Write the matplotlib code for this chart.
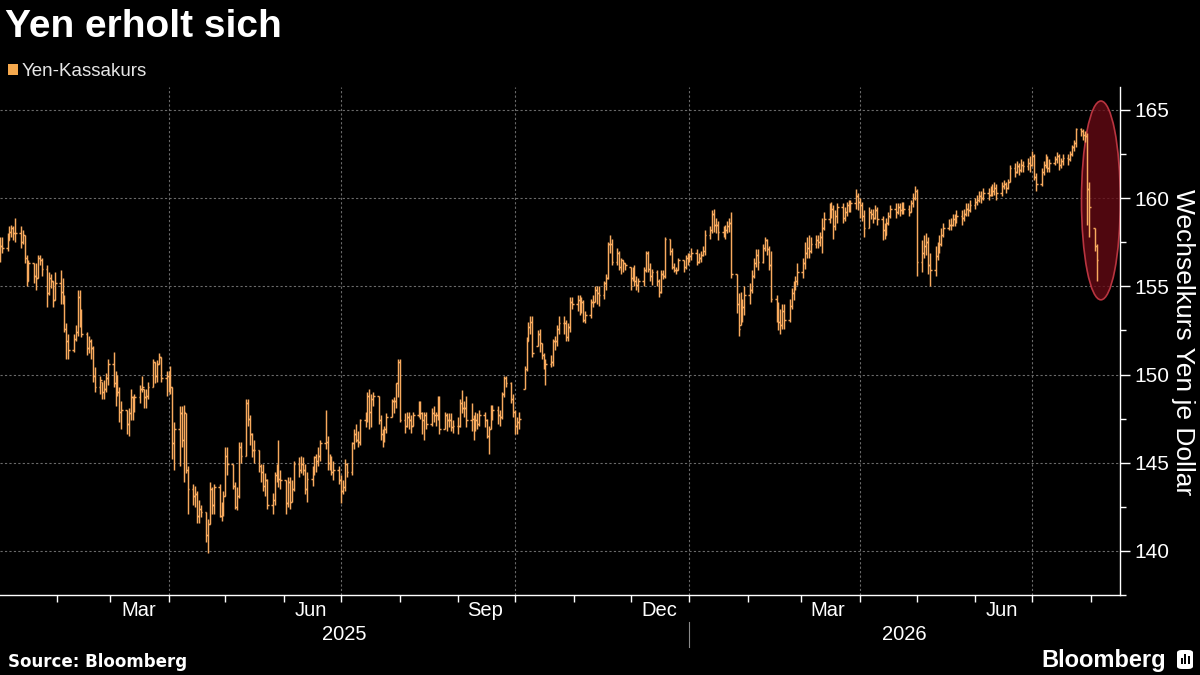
import numpy as np
import pandas as pd
import matplotlib
matplotlib.use("Agg")
import matplotlib.pyplot as plt
import matplotlib.dates as mdates
from matplotlib.collections import LineCollection
from matplotlib.patches import Ellipse, Rectangle, FancyBboxPatch
from matplotlib.transforms import blended_transform_factory

plt.rcParams['font.family'] = ['Liberation Sans', 'DejaVu Sans']

# ---------------- data (USD/JPY daily bars, business days) ----------------
start_date = "2025-01-02"
end_date = "2026-08-04"

close = [
    # Jan 2025
    157.3,157.2,157.6,158.1,158.3,158.0,158.0,157.5,157.9,156.6,155.3,156.3,155.6,155.5,156.6,156.5,156.0,154.6,155.5,155.3,154.2,155.2,
    # Feb 2025
    154.7,154.3,152.6,151.9,151.4,152.0,152.4,154.4,153.6,152.3,151.5,151.9,151.5,149.9,149.3,149.7,149.0,149.2,149.8,150.6,
    # Mar 2025
    149.5,149.8,149.0,147.9,148.0,147.2,147.8,148.7,148.0,148.7,149.2,149.3,148.7,148.8,149.3,150.7,149.9,150.6,151.0,149.8,149.9,
    # Apr 2025
    149.6,149.3,146.1,146.9,147.8,146.3,147.9,144.6,143.5,143.1,143.2,142.0,142.4,142.2,140.9,141.5,143.5,142.6,143.6,142.0,142.3,143.1,
    # May 2025
    145.4,144.9,143.7,142.5,143.1,145.9,145.4,148.4,147.5,146.6,145.7,145.7,144.8,144.5,143.7,144.0,142.6,142.9,144.3,144.8,144.1,144.0,
    # Jun 2025
    142.7,143.9,142.8,143.5,144.9,144.6,144.9,144.6,143.5,144.1,144.7,145.3,145.1,145.4,146.1,146.2,145.0,145.2,144.5,144.6,144.0,
    # Jul 2025
    143.4,143.6,144.9,144.5,146.1,146.6,146.3,146.2,147.4,147.7,148.8,147.9,148.6,148.8,147.4,146.6,146.5,146.9,147.6,148.5,148.5,149.5,150.7,
    # Aug 2025
    147.4,147.1,147.6,147.4,147.1,147.7,148.2,147.8,147.4,147.7,147.2,147.8,147.7,147.7,148.4,146.9,147.7,147.4,147.4,147.0,147.1,
    # Sep 2025
    147.1,148.4,148.1,148.1,147.4,147.5,146.9,147.4,147.2,147.7,147.4,146.5,146.9,147.9,148.0,147.7,147.6,148.9,149.8,149.5,148.6,147.9,
    # Oct 2025
    147.1,147.3,147.5,150.3,151.9,152.7,153.0,151.2,152.3,151.8,151.1,150.4,150.6,150.7,151.9,151.9,152.6,152.9,152.9,152.1,152.7,154.1,154.0,
    # Nov 2025
    154.2,153.6,154.1,153.1,153.4,154.1,154.1,154.8,154.6,154.5,155.2,155.5,157.4,157.4,156.4,156.9,156.1,156.5,156.3,156.2,
    # Dec 2025
    155.5,155.9,155.3,155.1,155.3,155.9,156.9,156.0,155.6,155.8,155.3,154.7,155.7,155.6,157.7,157.0,156.1,155.9,155.9,156.5,156.1,156.6,156.7,
    # Jan 2026
    156.7,156.9,156.4,156.6,156.8,157.0,157.9,158.2,159.1,158.5,158.5,158.1,158.0,158.2,158.4,158.6,155.7,154.0,152.6,153.3,153.8,154.5,
    # Feb 2026
    154.8,155.6,156.3,156.8,156.4,157.2,157.6,157.1,156.2,154.3,153.4,153.0,152.8,153.6,153.1,153.9,154.6,155.0,155.3,155.8,
    # Mar 2026
    156.3,156.9,157.2,157.0,157.4,157.6,157.5,157.8,158.3,158.8,159.3,159.4,158.4,159.0,159.5,158.9,159.2,159.6,159.5,159.7,160.1,159.8,
    # Apr 2026
    159.6,159.0,158.3,159.2,159.1,158.9,159.3,158.8,158.2,157.9,158.6,159.0,159.4,159.2,159.5,159.3,159.6,159.4,159.2,159.7,160.0,160.4,
    # May 2026
    156.4,156.9,157.3,157.5,156.2,155.9,156.7,157.2,157.4,157.9,158.3,158.5,158.5,158.8,158.7,159.0,158.9,159.1,159.4,159.3,159.6,
    # Jun 2026
    159.8,159.9,160.1,160.0,160.3,160.2,160.5,160.4,160.6,160.3,160.7,160.8,160.6,160.9,161.7,161.5,161.8,161.6,161.9,161.8,162.0,161.9,
    # Jul / Aug 2026
    162.4,161.2,160.8,161.5,161.9,162.2,161.7,162.0,162.2,162.4,161.9,162.1,162.3,162.2,162.5,162.9,163.1,163.9,163.8,163.6,163.5,160.5,159.5,
    157.3,156.5,
]

high = [
    157.8,157.8,158.0,158.4,158.5,158.4,158.9,158.4,158.2,157.9,156.8,156.5,156.3,156.3,156.8,156.8,156.6,156.2,155.8,155.7,155.3,155.8,
    155.9,155.5,154.5,152.9,152.3,152.3,152.8,154.8,154.8,153.7,152.4,152.2,152.0,151.6,150.4,149.9,149.6,149.7,150.1,150.9,
    151.3,150.2,150.0,149.3,148.5,148.0,148.1,149.2,148.8,148.9,149.4,149.9,149.2,149.2,149.6,150.9,150.7,150.8,151.2,151.0,150.2,
    150.2,150.5,149.3,147.3,148.2,148.2,148.3,147.8,144.8,143.8,143.7,143.4,142.9,142.6,142.2,141.8,143.9,143.6,143.8,143.8,142.8,143.4,
    145.9,145.9,144.9,143.9,143.6,146.2,146.2,148.6,148.6,147.7,146.7,146.3,145.7,144.9,144.9,144.4,144.1,143.3,144.5,144.9,146.3,144.6,
    144.0,144.2,144.2,144.0,145.1,145.3,145.4,145.3,144.9,144.5,144.8,145.4,145.5,145.9,146.3,148.0,146.5,145.5,145.4,145.1,144.8,
    144.3,144.0,145.2,145.0,146.2,146.9,147.2,146.8,147.5,147.9,149.0,149.2,148.9,149.0,148.8,147.7,146.9,147.1,147.8,148.6,148.7,149.5,150.9,
    150.9,147.8,147.9,147.9,147.7,147.9,148.5,148.5,147.9,147.9,147.9,148.1,148.2,147.9,148.8,148.8,147.9,147.8,147.8,147.8,147.4,
    147.6,148.6,149.1,148.5,148.8,148.4,147.7,147.9,147.8,148.0,147.9,147.5,147.1,148.3,148.3,148.2,148.0,149.0,149.9,149.9,149.6,148.9,
    148.0,147.6,147.9,150.5,152.1,153.0,153.3,153.3,152.5,152.6,151.8,151.2,150.9,151.1,152.0,152.2,152.8,153.3,153.3,153.1,152.9,154.4,154.4,
    154.5,154.5,154.4,154.2,153.6,154.3,154.5,155.0,155.0,155.0,155.3,155.7,157.5,157.9,157.7,157.2,157.0,156.6,156.5,156.3,
    156.1,156.1,156.2,155.6,155.5,156.1,157.0,157.0,156.3,156.0,155.9,155.4,155.9,155.9,157.8,157.7,157.2,156.3,156.1,156.6,156.5,156.8,156.9,
    156.9,157.2,157.1,156.9,157.0,157.3,158.2,158.4,159.3,159.4,158.9,158.7,158.4,158.5,158.7,158.9,159.2,155.7,154.6,154.7,154.3,155.0,
    155.2,155.9,156.6,157.1,157.1,157.4,157.8,157.7,157.3,157.0,154.5,154.1,153.7,154.0,154.0,154.3,154.9,155.3,155.6,156.3,
    156.6,157.5,157.8,157.9,157.8,157.9,157.9,158.1,158.9,159.2,159.7,159.8,159.6,159.3,159.7,159.7,159.5,159.8,159.9,159.9,160.5,160.3,
    160.0,159.8,159.3,159.5,159.4,159.4,159.6,159.5,159.0,158.6,158.9,159.2,159.6,159.7,159.7,159.7,159.8,159.8,159.6,159.9,160.3,160.7,
    160.5,157.6,157.9,158.0,157.8,156.9,157.3,157.5,157.9,158.3,158.6,158.8,158.9,159.1,159.1,159.3,159.3,159.4,159.7,159.7,159.9,
    160.0,160.2,160.4,160.4,160.6,160.6,160.7,160.8,160.9,160.8,160.9,161.0,160.9,161.1,161.9,162.0,162.1,162.0,162.2,162.1,162.3,162.4,
    162.7,162.5,161.4,161.7,162.1,162.5,162.4,162.2,162.4,162.6,162.5,162.3,162.5,162.5,162.7,163.0,163.3,164.0,164.0,163.9,163.8,163.7,160.9,
    158.3,157.4,
]

low = [
    156.4,156.9,157.0,157.6,157.8,157.6,157.5,157.2,157.4,156.3,155.0,155.3,155.2,154.8,155.5,156.2,155.6,153.8,154.5,154.9,153.8,154.2,
    154.0,154.0,152.4,150.9,150.9,151.3,151.9,152.2,152.7,152.1,151.1,151.2,150.9,149.6,149.0,148.9,148.6,148.6,149.0,149.4,
    149.3,148.2,148.8,147.3,146.9,146.6,146.5,147.4,147.4,147.9,148.4,149.0,148.1,148.1,148.6,149.3,149.5,149.6,150.6,149.6,148.8,
    149.0,148.9,145.2,144.6,144.8,145.9,143.9,144.4,142.1,142.6,142.5,141.6,141.6,141.9,140.5,139.9,141.5,142.1,142.1,141.9,141.7,142.0,
    143.1,144.3,143.5,142.4,142.3,143.0,145.0,145.4,147.1,146.0,145.3,145.0,144.5,143.9,143.4,143.1,142.4,142.1,142.6,143.9,143.6,143.5,
    142.1,142.5,142.4,142.8,143.4,144.2,144.4,144.3,143.2,142.8,143.7,144.3,144.5,144.8,145.1,145.8,144.6,144.6,144.3,144.0,143.8,
    142.7,143.2,143.4,144.2,144.3,145.8,146.2,145.9,146.0,147.0,147.3,146.9,147.0,148.2,147.2,146.3,145.9,146.2,146.7,147.6,147.8,148.1,148.7,
    147.3,146.7,147.0,146.9,146.7,147.1,147.6,147.5,146.6,146.3,146.9,147.1,147.3,147.1,147.4,146.6,146.9,146.8,147.0,146.8,146.7,
    146.6,147.0,147.8,147.6,147.0,146.8,146.3,146.8,146.9,147.1,147.0,146.4,145.5,146.9,147.4,147.2,147.1,147.5,148.7,149.3,148.4,147.6,
    146.6,146.6,146.9,149.2,150.2,151.9,152.3,151.0,151.6,151.3,150.9,150.3,149.4,150.4,150.5,151.4,151.6,152.3,152.3,151.9,151.9,152.4,153.7,
    153.6,153.4,153.5,153.0,152.9,153.2,153.8,154.1,154.0,153.9,154.3,154.8,155.4,156.9,156.2,156.2,155.9,155.7,155.8,155.9,
    154.8,155.3,155.0,154.8,154.7,155.0,155.8,155.8,155.3,155.1,155.0,154.4,154.6,155.4,155.5,156.8,156.0,155.8,155.7,155.9,155.8,156.0,156.2,
    156.4,156.5,156.2,156.3,156.4,156.7,156.8,157.7,158.0,158.1,158.0,157.6,157.8,157.7,158.0,158.1,155.5,153.5,152.2,152.8,153.0,153.4,
    154.0,154.6,155.5,156.1,155.9,156.3,157.0,156.8,155.9,154.1,153.0,152.5,152.3,152.6,152.6,153.0,153.7,154.2,154.8,155.1,
    155.5,156.0,156.6,156.6,156.9,157.2,157.2,157.3,156.9,158.2,158.6,158.9,157.7,158.2,158.6,158.6,158.7,159.0,159.2,159.2,159.4,159.3,
    158.9,158.7,157.8,158.3,158.8,158.6,158.8,158.5,157.6,157.7,157.9,158.5,158.9,158.9,159.1,159.0,159.1,159.1,159.0,159.2,159.5,159.9,
    155.6,155.8,156.6,156.8,155.7,155.0,155.6,156.5,156.9,157.3,157.8,158.2,158.2,158.4,158.4,158.6,158.5,158.7,159.0,159.0,159.2,
    159.4,159.6,159.8,159.7,159.9,159.9,160.1,160.1,160.2,159.9,160.1,160.5,160.3,160.5,160.9,161.2,161.4,161.3,161.5,161.5,161.6,161.5,
    161.8,161.0,160.4,160.7,161.3,161.7,161.5,161.5,161.9,162.0,161.6,161.7,161.9,161.9,162.1,162.4,162.7,162.9,163.5,163.3,163.2,158.5,157.8,
    157.0,155.3,
]

y_ticks = [140, 145, 150, 155, 160, 165]
month_labels = [("2025-03-16", "Mar"), ("2025-06-15", "Jun"), ("2025-09-15", "Sep"),
                ("2025-12-16", "Dec"), ("2026-03-15", "Mar"), ("2026-06-15", "Jun")]
year_labels = ["2025", "2026"]
grid_dates = ["2025-04-01", "2025-07-01", "2025-10-01", "2026-01-01", "2026-04-01", "2026-07-01"]

# ---------------- build ----------------
dates = pd.bdate_range(start_date, end_date)
assert len(dates) == len(close) == len(high) == len(low), (len(dates), len(close), len(high), len(low))
close = np.array(close)
high = np.array(high)
low = np.array(low)
# open approximated by previous close, kept inside the day's range
open_ = np.clip(np.r_[close[0], close[:-1]], low, high)
x = mdates.date2num(dates.to_pydatetime())

BG = "black"
BAR = "#f8aa5e"
fig = plt.figure(figsize=(12, 6.75), dpi=100, facecolor=BG)
ax = fig.add_axes([0.0, 80 / 675, 1120 / 1200, (595 - 87) / 675])
ax.set_facecolor(BG)

x0 = mdates.date2num(pd.Timestamp("2025-01-02"))
x1 = mdates.date2num(pd.Timestamp("2026-08-16 08:00"))
ax.set_xlim(x0, x1)
ax.set_ylim(137.52, 166.3)

# grid
for v in y_ticks:
    ax.axhline(v, color="#6a6a6a", lw=0.8, ls=(0, (2, 2)), zorder=1)
for d in grid_dates:
    ax.axvline(mdates.date2num(pd.Timestamp(d)), color="#6a6a6a", lw=0.8, ls=(0, (2, 2)), zorder=1)

# highlight ellipse
ell = Ellipse((mdates.date2num(pd.Timestamp("2026-08-06 06:00")), 159.87), width=20.5, height=11.27,
              facecolor=(0.40, 0.04, 0.08, 0.78), edgecolor="#b8343f", lw=1.2, zorder=2)
ax.add_patch(ell)

# OHLC bars
tw = 0.85
vsegs = [[(xi, lo), (xi, hi)] for xi, lo, hi in zip(x, low, high)]
osegs = [[(xi - tw, o), (xi, o)] for xi, o in zip(x, open_)]
csegs = [[(xi, c), (xi + tw, c)] for xi, c in zip(x, close)]
ax.add_collection(LineCollection(vsegs + osegs + csegs, colors=BAR, linewidths=1.05, zorder=3))

# spines
for s in ["top", "left"]:
    ax.spines[s].set_visible(False)
ax.spines["right"].set_color("white")
ax.spines["bottom"].set_color("white")
ax.spines["right"].set_linewidth(1.0)
ax.spines["bottom"].set_linewidth(1.0)

# y axis on right
ax.yaxis.tick_right()
ax.set_yticks(y_ticks)
ax.set_yticklabels([str(v) for v in y_ticks])
ax.set_yticks([137.5, 142.5, 147.5, 152.5, 157.5, 162.5], minor=True)
ax.tick_params(axis="y", which="major", direction="out", length=7, width=1, colors="white",
               labelsize=15, pad=3)
ax.tick_params(axis="y", which="minor", direction="out", length=4, width=1, colors="white")

# x axis month ticks
mticks = pd.date_range("2025-02-01", "2026-08-01", freq="MS")
ax.set_xticks(mdates.date2num(mticks.to_pydatetime()))
ax.set_xticklabels([])
ax.tick_params(axis="x", which="major", direction="out", length=5, width=1, colors="white")

trans = blended_transform_factory(ax.transData, fig.transFigure)
for d, lab in month_labels:
    ax.text(mdates.date2num(pd.Timestamp(d)), 1 - 610 / 675, lab, transform=trans, ha="center",
            va="center", color="white", fontsize=14.5)
xsep = mdates.date2num(pd.Timestamp("2026-01-01"))
ax.text((x0 + xsep) / 2, 1 - 634 / 675, year_labels[0], transform=trans, ha="center", va="center",
        color="white", fontsize=14.5)
ax.text((xsep + x1) / 2, 1 - 634 / 675, year_labels[1], transform=trans, ha="center", va="center",
        color="white", fontsize=14.5)
ax.plot([xsep, xsep], [1 - 622 / 675, 1 - 647 / 675], transform=trans, color="#8a8a8a", lw=0.8, clip_on=False)

# y label
fig.text(1183 / 1200, 1 - 342 / 675, "Wechselkurs Yen je Dollar", rotation=-90, ha="center", va="center",
         color="white", fontsize=19)

# title & legend
fig.text(5 / 1200, 1 - 37 / 675, "Yen erholt sich", ha="left", va="baseline", color="white",
         fontsize=28, fontweight="bold")
fig.patches.append(Rectangle((8 / 1200, 1 - 75 / 675), 10 / 1200, 11 / 675, transform=fig.transFigure,
                             facecolor="#f5a84d", edgecolor="none"))
fig.text(22 / 1200, 1 - 76 / 675, "Yen-Kassakurs", ha="left", va="baseline", color="#e6e6e6", fontsize=13.5)

# footer
fig.text(8 / 1200, 1 - 662 / 675, "Source: Bloomberg", ha="left", va="center", color="white",
         fontsize=12, fontweight="bold", family=["DejaVu Sans"])
fig.text(1166 / 1200, 1 - 660 / 675, "Bloomberg", ha="right", va="center", color="white",
         fontsize=17, fontweight="bold")
fig.patches.append(FancyBboxPatch((1177 / 1200, 1 - 669 / 675), 16 / 1200, 19 / 675,
                                  boxstyle="round,pad=0,rounding_size=0.004", transform=fig.transFigure,
                                  facecolor="white", edgecolor="none"))
for i, h in enumerate([6, 10, 8]):
    fig.patches.append(Rectangle(((1180.5 + i * 3.5) / 1200, 1 - 664 / 675), 2 / 1200, h / 675,
                                 transform=fig.transFigure, facecolor="black", edgecolor="none"))

fig.savefig("out.png", dpi=100, facecolor=BG)
